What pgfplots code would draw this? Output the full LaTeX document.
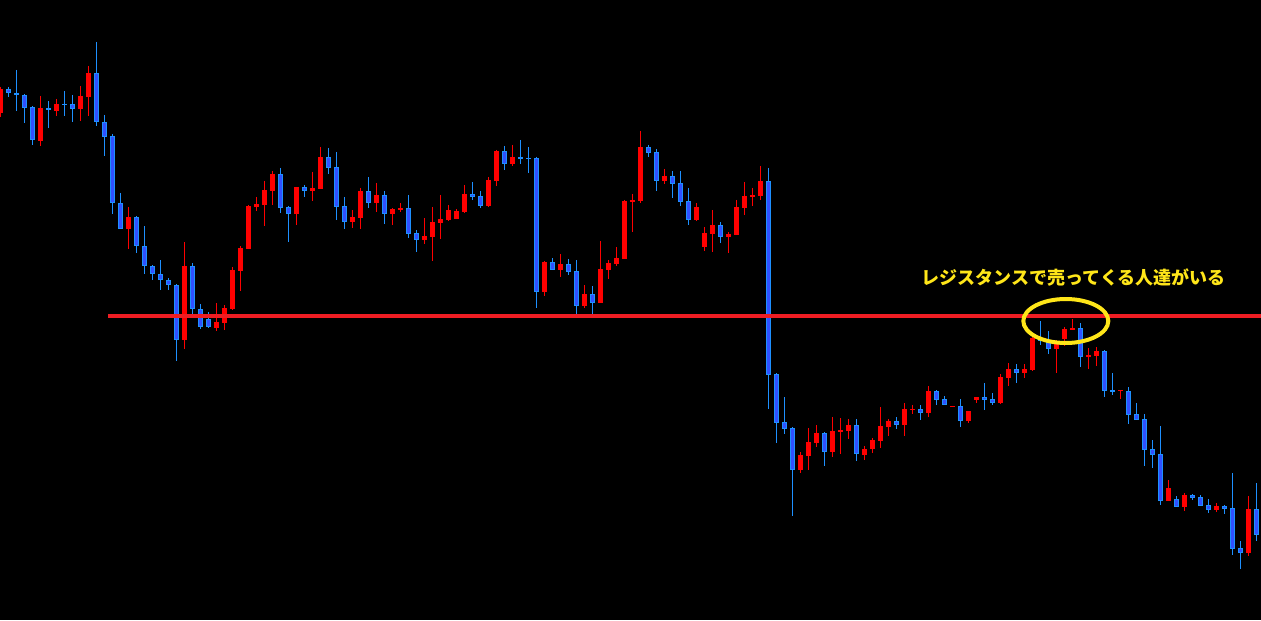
\documentclass[border=0pt]{standalone}
\usepackage{pgfplots}
\usepackage{pgfplotstable}
\pgfplotsset{compat=1.18}
\usepackage{fontspec}
\newfontfamily\cjk{Noto Sans CJK JP}
\definecolor{wblue}{HTML}{1E90FF}
\definecolor{bfill}{HTML}{3050FF}
\definecolor{cred}{HTML}{FF0000}
\definecolor{lred}{HTML}{EE1D23}
\definecolor{cyel}{HTML}{FFE619}
% columns: x, high, low, body top, body bottom (pixel rows, y grows downward)
\pgfplotstableread{
x h l t b
8 87 97 89 93
16 70 111 93 95
24 94 123 95 108
32 106 145 107 140
48 101 128 108 110
64 91 116 104 105
72 95 122 104 109
96 42 126 73 122
104 115 156 122 137
112 134 214 136 203
120 193 229 203 229
136 216 253 217 246
144 226 274 246 266
152 265 280 266 274
160 260 290 274 280
168 278 290 280 285
176 284 361 285 340
192 263 316 266 309
200 304 329 309 327
208 312 328 319 327
280 168 213 174 208
288 206 242 207 214
304 185 197 187 191
328 148 174 157 168
336 152 220 167 207
344 197 229 206 222
368 177 208 191 203
384 191 224 195 214
408 195 238 208 234
416 230 252 233 240
472 182 200 194 197
480 191 208 196 206
504 146 170 151 164
520 140 164 157 159
528 147 173 158 159
536 157 308 158 292
552 258 270 262 270
568 259 275 264 272
576 260 314 271 306
592 286 314 294 303
648 145 157 147 153
656 149 191 152 181
672 171 198 176 184
680 171 206 183 202
688 188 225 201 220
720 222 243 225 237
768 168 409 181 375
776 373 443 374 423
784 397 434 422 429
792 427 516 428 470
824 432 466 433 452
856 419 461 425 454
896 417 429 421 425
920 405 420 409 413
936 390 405 391 400
944 396 405 399 405
960 399 427 406 421
984 383 410 397 400
992 393 405 399 403
1016 364 383 369 373
1040 321 345 338 341
1048 331 354 340 349
1080 323 367 328 357
1104 350 397 351 391
1112 373 395 390 392
1128 387 424 391 415
1136 403 420 414 420
1144 414 466 419 450
1152 440 468 449 455
1160 426 505 454 501
1176 496 507 499 507
1192 494 500 495 498
1200 495 506 497 506
1208 499 513 505 510
1224 505 514 506 509
1232 473 555 508 549
1240 541 569 548 553
1256 483 541 509 535
}\bluedata
\pgfplotstableread{
x h l t b
0 87 117 89 113
40 96 146 108 141
56 99 116 104 111
80 86 121 96 109
88 66 116 73 97
128 207 249 217 229
184 242 349 266 340
216 303 331 322 328
224 305 330 308 323
232 267 310 270 309
240 246 291 248 271
248 205 249 206 249
256 197 211 204 207
264 181 226 190 205
272 171 205 174 191
296 187 225 187 214
312 172 201 188 191
320 147 189 157 189
352 210 228 217 222
360 188 229 191 218
376 183 212 195 203
392 208 225 209 214
400 203 212 208 210
424 218 244 236 240
432 207 261 222 237
440 195 239 219 223
448 205 221 210 220
456 209 219 211 219
464 185 213 194 212
488 177 207 180 206
496 150 186 151 181
512 145 166 157 164
544 261 296 262 292
560 254 277 264 270
584 285 308 294 306
600 241 303 269 303
608 260 279 263 270
616 247 266 258 264
624 200 259 201 259
632 194 232 200 202
640 131 203 147 201
664 169 184 176 181
696 203 221 207 220
704 227 251 233 247
712 210 252 225 234
728 232 253 234 237
736 200 235 207 235
744 182 215 196 208
752 188 206 195 197
760 166 200 181 196
800 452 473 455 470
808 428 470 442 456
816 425 447 433 443
832 417 457 431 452
840 418 454 430 432
848 419 439 425 431
864 446 460 449 455
872 438 453 440 449
880 407 448 426 441
888 419 436 421 427
904 403 436 409 425
912 405 414 409 410
928 386 417 391 413
952 406 407 406 407
968 411 423 411 421
976 397 403 397 400
1000 374 404 377 403
1008 363 386 369 378
1024 364 378 369 373
1032 336 371 338 370
1056 340 373 343 349
1064 327 346 329 339
1072 319 330 328 330
1088 348 369 355 357
1096 347 366 351 356
1120 390 399 390 391
1168 480 501 488 501
1184 493 511 495 507
1216 503 512 506 510
1248 496 556 509 553
}\reddata
\begin{document}
\begin{tikzpicture}
\begin{axis}[
  width=630.5pt, height=310pt, scale only axis,
  xmin=-0.3, xmax=1260.7, ymin=0, ymax=620, y dir=reverse,
  axis line style={draw=none}, xtick=\empty, ytick=\empty,
  axis background/.style={fill=black},
  clip=true,
  candle/.style={draw=none, mark=none, forget plot},
]
% wicks
\addplot[candle, error bars/.cd, y dir=plus, y explicit, error mark=none,
  error bar style={line width=0.5pt, draw=wblue}]
  table[x=x, y=h, y error expr={\thisrow{l}-\thisrow{h}}] {\bluedata};
\addplot[candle, error bars/.cd, y dir=plus, y explicit, error mark=none,
  error bar style={line width=0.5pt, draw=cred}]
  table[x=x, y=h, y error expr={\thisrow{l}-\thisrow{h}}] {\reddata};
% bodies
\addplot[candle, error bars/.cd, y dir=plus, y explicit, error mark=none,
  error bar style={line width=2.7pt, draw=wblue}]
  table[x=x, y=t, y error expr={max(\thisrow{b}-\thisrow{t},1)}] {\bluedata};
\addplot[candle, error bars/.cd, y dir=plus, y explicit, error mark=none,
  error bar style={line width=1.7pt, draw=bfill}]
  table[x=x, y expr={\thisrow{t}+1}, y error expr={max(\thisrow{b}-\thisrow{t}-2,0)}] {\bluedata};
\addplot[candle, error bars/.cd, y dir=plus, y explicit, error mark=none,
  error bar style={line width=2.7pt, draw=cred}]
  table[x=x, y=t, y error expr={max(\thisrow{b}-\thisrow{t},1)}] {\reddata};
% resistance line
\addplot[lred, line width=2.3pt, mark=none] coordinates {(108,316) (1262,316)};
% annotation
\draw[cyel, line width=2pt] (axis cs:1065.5,321) ellipse [x radius=21.25pt, y radius=11pt];
\node[text=cyel, inner sep=0pt, font=\cjk\bfseries\fontsize{9pt}{9pt}\selectfont] at (axis cs:1073.5,278) {レジスタンスで売ってくる人達がいる};
\end{axis}
\end{tikzpicture}
\end{document}
